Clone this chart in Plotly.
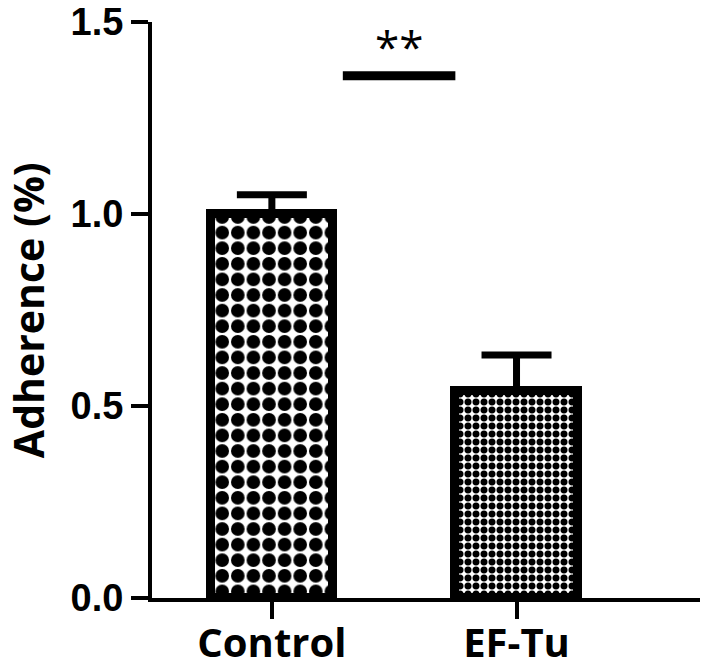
import plotly.graph_objects as go

categories = ["Control", "EF-Tu"]
values = [1.0, 0.54]
errors = [0.05, 0.093]
sig_y = 1.36
sig_label = "**"
y_title = "Adherence (%)"
y_ticks = [0.0, 0.5, 1.0, 1.5]
y_ticktext = ["0.0", "0.5", "1.0", "1.5"]

fig = go.Figure()
pattern_sizes = [15.6, 8]
for cat, v, e, ps in zip(categories, values, errors, pattern_sizes):
    fig.add_trace(go.Bar(
        x=[cat], y=[v], width=0.5,
        marker=dict(color="white", line=dict(color="black", width=9),
                    pattern=dict(shape=".", fgcolor="black", bgcolor="white", fgopacity=1,
                                 size=ps, solidity=0.6, fillmode="overlay")),
        error_y=dict(type="data", array=[e], arrayminus=[0], symmetric=False,
                     color="black", thickness=7, width=35),
        showlegend=False,
    ))

fig.add_shape(type="line", xref="x", yref="y", x0=0.29, x1=0.75, y0=sig_y, y1=sig_y,
              line=dict(color="black", width=9))
fig.add_annotation(x=0.52, y=sig_y, xref="x", yref="y", text=sig_label, showarrow=False,
                   yshift=30, font=dict(family="Open Sans", size=44, color="black"))
fig.add_annotation(x=-0.226, y=0.5, xref="paper", yref="paper", text=y_title, showarrow=False,
                   textangle=-90, xanchor="center", yanchor="middle",
                   font=dict(family="Open Sans", size=41, color="black", weight="bold"))

fig.update_layout(
    width=721, height=670,
    margin=dict(l=144, r=29, t=14, b=80),
    plot_bgcolor="white", paper_bgcolor="white",
    bargap=0,
    xaxis=dict(type="category", range=[-0.49, 1.75], showline=True, linecolor="black",
               linewidth=4, ticks="outside", ticklen=17, tickwidth=4, tickcolor="black",
               showgrid=False, zeroline=False, automargin=False, ticklabelstandoff=-10,
               ticklabeloverflow="allow",
               tickfont=dict(family="Open Sans", size=40, color="black", weight="bold")),
    yaxis=dict(range=[0, 1.5], tickvals=y_ticks, ticktext=y_ticktext, showline=True,
               linecolor="black", linewidth=4, ticks="outside", ticklen=17, tickwidth=4,
               tickcolor="black", showgrid=False, zeroline=False, automargin=False,
               ticklabeloverflow="allow",
               tickfont=dict(family="Liberation Sans", size=38, color="black", weight="bold")),
)

fig.write_html("out.html")
